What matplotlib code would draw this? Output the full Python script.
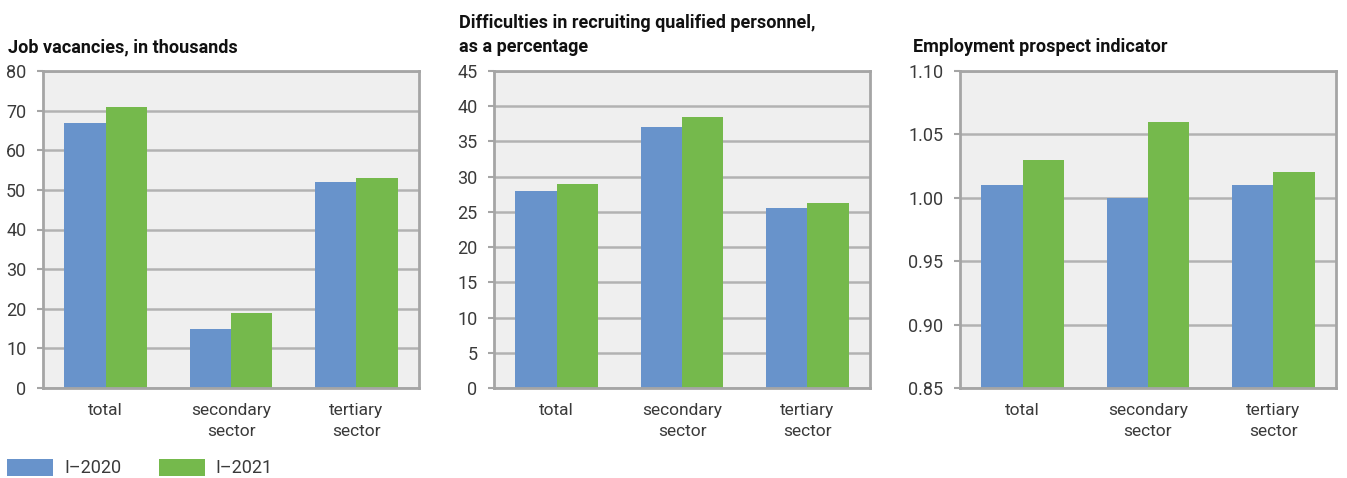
import matplotlib
matplotlib.use("Agg")
import matplotlib.pyplot as plt
from matplotlib.patches import Patch
from matplotlib.ticker import FixedLocator, FormatStrFormatter

plt.rcParams['font.family'] = ['Roboto', 'DejaVu Sans']

categories = ["total", "secondary\nsector", "tertiary\nsector"]
series_names = ["I\u20132020", "I\u20132021"]

vacancies_2020 = [67, 15, 52]
vacancies_2021 = [71, 19, 53]

recruiting_2020 = [28.0, 37.1, 25.6]
recruiting_2021 = [28.9, 38.5, 26.2]

prospect_2020 = [1.01, 1.00, 1.01]
prospect_2021 = [1.03, 1.06, 1.02]

panels = [
    ("Job vacancies, in thousands", vacancies_2020, vacancies_2021,
     (0, 80), [0, 10, 20, 30, 40, 50, 60, 70, 80], "%d"),
    ("Difficulties in recruiting qualified personnel,\nas a percentage",
     recruiting_2020, recruiting_2021,
     (0, 45), [0, 5, 10, 15, 20, 25, 30, 35, 40, 45], "%d"),
    ("Employment prospect indicator", prospect_2020, prospect_2021,
     (0.85, 1.10), [0.85, 0.90, 0.95, 1.00, 1.05, 1.10], "%.2f"),
]

BLUE = "#6893CB"
GREEN = "#75B94C"
BG = "#EFEFEF"
GRID = "#B2B2B2"
SPINE = "#A5A5A5"
TEXT = "#3A3A3A"

W, H = 1347, 478
fig = plt.figure(figsize=(W / 100, H / 100), dpi=100)

lefts = [43, 494, 960]
ax_w, ax_top, ax_bot = 376, 71, 388
title_x = [8, 459, 913]

bar_w = 0.33
x = range(len(categories))

for (title, s1, s2, ylim, ticks, fmt), lx, tx in zip(panels, lefts, title_x):
    ax = fig.add_axes([lx / W, 1 - ax_bot / H, ax_w / W, (ax_bot - ax_top) / H])
    ax.set_facecolor(BG)
    base = ylim[0]
    ax.bar([i - bar_w / 2 for i in x], [v - base for v in s1], bar_w,
           bottom=base, color=BLUE, zorder=3)
    ax.bar([i + bar_w / 2 for i in x], [v - base for v in s2], bar_w,
           bottom=base, color=GREEN, zorder=3)
    ax.set_xlim(-0.5, len(categories) - 0.5)
    ax.set_ylim(*ylim)
    ax.yaxis.set_major_locator(FixedLocator(ticks))
    ax.yaxis.set_major_formatter(FormatStrFormatter(fmt))
    ax.grid(axis="y", color=GRID, linewidth=1.8, zorder=1)
    ax.set_axisbelow(True)
    for sp in ax.spines.values():
        sp.set_color(SPINE)
        sp.set_linewidth(2.0)
        sp.set_zorder(4)
    ax.set_xticks(list(x))
    ax.set_xticklabels(categories, fontsize=12.5, color=TEXT, linespacing=1.45)
    ax.tick_params(axis="x", length=0, pad=11)
    ax.tick_params(axis="y", length=4, width=1.5, color=SPINE, pad=8,
                   labelsize=13, labelcolor=TEXT)
    fig.text(tx / W, 1 - 52 / H, title, fontsize=13, fontweight="bold",
             color="#111111", ha="left", va="baseline", linespacing=1.4)

handles = [Patch(facecolor=BLUE), Patch(facecolor=GREEN)]
fig.legend(handles, series_names, loc="center left",
           bbox_to_anchor=(7 / W, 1 - 468 / H), ncol=2, frameon=False,
           fontsize=13, handlelength=2.55, handleheight=1.1,
           columnspacing=2.1, handletextpad=0.6, borderpad=0,
           borderaxespad=0, labelcolor=TEXT)

fig.savefig("out.png", dpi=100)
